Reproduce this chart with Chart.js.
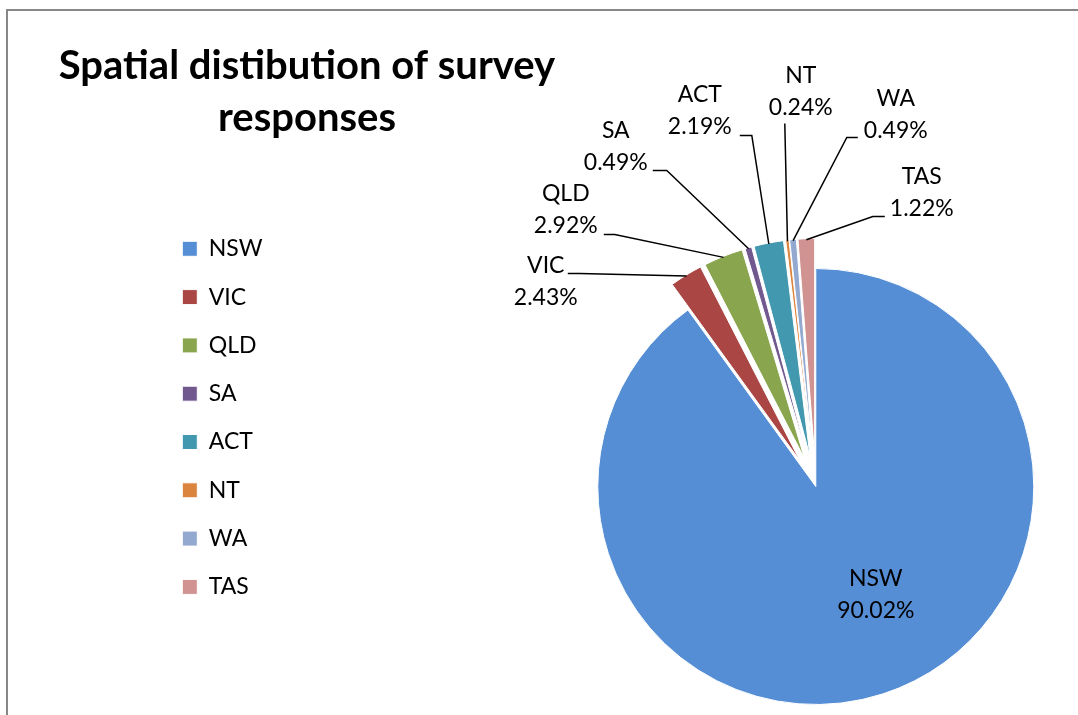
<!DOCTYPE html>
<html>
<head>
<meta charset="utf-8">
<script src="https://cdn.jsdelivr.net/npm/chart.js@4/dist/chart.umd.min.js"></script>
<style>
  html, body { margin: 0; padding: 0; background: #fff; overflow: hidden; width: 1078px; height: 715px; }
  #frame { position: absolute; left: 6px; top: 9px; width: 1200px; height: 800px;
           border-left: 2px solid #878787; border-top: 2px solid #878787; }
  #chartjs { position: absolute; left: 0; top: 0; }
</style>
</head>
<body>
<div id="frame"></div>
<!-- canvas runs past the window on the right and bottom so the pie centre lands where it should -->
<canvas id="chartjs" width="1359" height="761"></canvas>
<script>
  const states = ['NSW', 'VIC', 'QLD', 'SA', 'ACT', 'NT', 'WA', 'TAS'];
  const shares = [90.02, 2.43, 2.92, 0.49, 2.19, 0.24, 0.49, 1.22];
  const titleLines = ['Spatial distibution of survey', 'responses'];

  const colours = ['#558ED5', '#AA4643', '#89A54E', '#71588F', '#4198AF', '#DB843D', '#93A9CF', '#D19392'];
  // how far each slice is pulled out of the pie, px
  const explode = [0, 30, 30, 30, 30, 30, 30, 30];

  // where each data label sits, px from the pie centre:
  // text = centre of first line, from/elbow = start of the leader line
  const labelSpots = [
    { text: [60, 92] },
    { text: [-270, -221], from: [-248, -213], elbow: [-236, -213] },
    { text: [-250, -293], from: [-212, -252], elbow: [-201, -252] },
    { text: [-200, -356], from: [-163, -316], elbow: [-149, -316] },
    { text: [-116, -392], from: [-76, -351], elbow: [-64, -351] },
    { text: [-15, -411], from: [-31, -363], elbow: [-31, -363] },
    { text: [80, -388], from: [42, -349], elbow: [31, -349] },
    { text: [106, -310], from: [69, -270], elbow: [57, -270] }
  ];

  Chart.defaults.font.family = 'Lato';
  Chart.defaults.color = '#000';

  // excel style explode: move the whole slice along its bisector,
  // chart.js "offset" would also trim the thin slices
  const explodeSlices = {
    id: 'explodeSlices',
    afterDatasetUpdate(chart, args) {
      args.meta.data.forEach(function (arc, i) {
        const mid = (arc.startAngle + arc.endAngle) / 2;
        arc.x += Math.cos(mid) * explode[i];
        arc.y += Math.sin(mid) * explode[i];
      });
    }
  };

  const decorations = {
    id: 'decorations',
    afterDatasetsDraw(chart) {
      const ctx = chart.ctx;
      const area = chart.chartArea;
      const cx = (area.left + area.right) / 2;
      const cy = (area.top + area.bottom) / 2;
      const arcs = chart.getDatasetMeta(0).data;
      ctx.save();
      ctx.fillStyle = '#000';
      ctx.textAlign = 'center';
      ctx.textBaseline = 'alphabetic';
      ctx.font = 'bold 40px Lato';
      ctx.fillText(titleLines[0], 307, 79);
      ctx.fillText(titleLines[1], 307, 131);

      ctx.font = '23px Lato';
      ctx.textBaseline = 'middle';
      ctx.strokeStyle = '#000';
      ctx.lineWidth = 1.5;
      arcs.forEach(function (arc, i) {
        const spot = labelSpots[i];
        if (spot.from) {
          const mid = (arc.startAngle + arc.endAngle) / 2;
          const r = arc.outerRadius - 1;
          ctx.beginPath();
          ctx.moveTo(cx + spot.from[0], cy + spot.from[1]);
          ctx.lineTo(cx + spot.elbow[0], cy + spot.elbow[1]);
          ctx.lineTo(arc.x + Math.cos(mid) * r, arc.y + Math.sin(mid) * r);
          ctx.stroke();
        }
        ctx.fillText(states[i], cx + spot.text[0], cy + spot.text[1]);
        ctx.fillText(shares[i].toFixed(2) + '%', cx + spot.text[0], cy + spot.text[1] + 32);
      });
      ctx.restore();
    }
  };

  const ctx = document.getElementById('chartjs');
  new Chart(ctx, {
    type: 'pie',
    data: {
      labels: states,
      datasets: [{
        data: shares,
        backgroundColor: colours,
        borderColor: '#fff',
        borderWidth: 1
      }]
    },
    options: {
      responsive: false,
      animation: false,
      radius: 218,
      layout: {
        padding: { left: 157, top: 212, right: 0, bottom: 0 }
      },
      plugins: {
        legend: {
          position: 'left',
          align: 'start',
          labels: {
            font: { family: 'Lato', size: 23 },
            color: '#000',
            boxWidth: 15,
            boxHeight: 15,
            padding: 25.3
          }
        },
        tooltip: { enabled: false },
        title: { display: false }
      }
    },
    plugins: [explodeSlices, decorations]
  });
</script>
</body>
</html>
